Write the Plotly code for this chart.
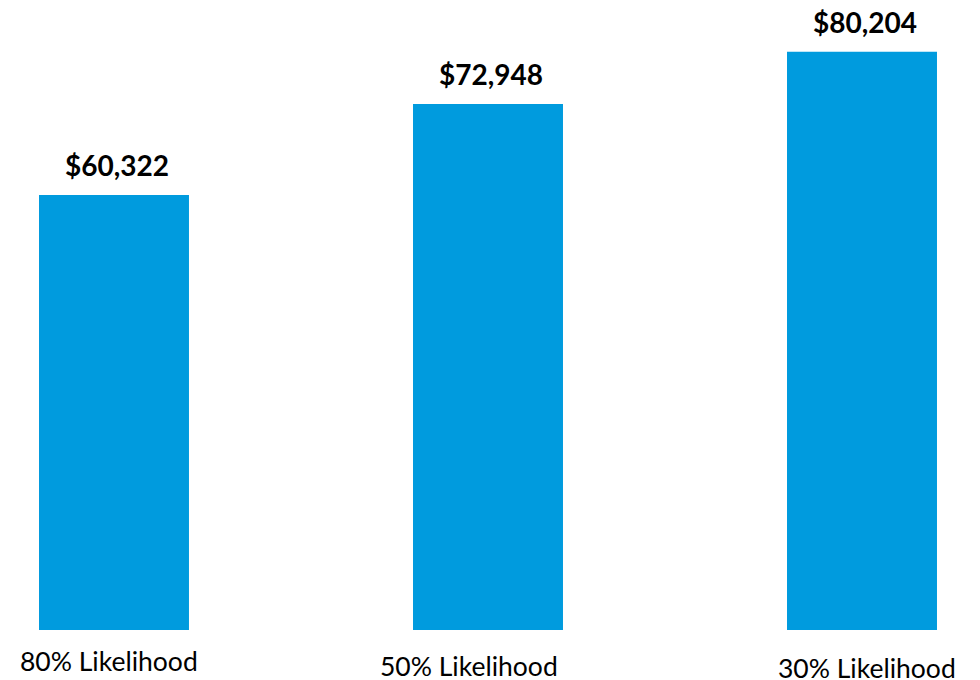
import plotly.graph_objects as go

# Expected outcome by likelihood level
categories = ["80% Likelihood", "50% Likelihood", "30% Likelihood"]
values = [60322, 72948, 80204]
value_labels = ["$60,322", "$72,948", "$80,204"]

# Per-category nudges for the category captions (pixels)
caption_dx = [-5, -19, 5]
caption_dy = [-13, -18, -20]

BAR_COLOR = "#009BDE"

fig = go.Figure(
    go.Bar(
        x=categories,
        y=values,
        marker=dict(color=BAR_COLOR, line=dict(width=0)),
        width=0.401,
        hoverinfo="skip",
    )
)

annotations = []
for cat, val, lab in zip(categories, values, value_labels):
    annotations.append(dict(
        x=cat, y=val, xref="x", yref="y",
        text=f"<b>{lab}</b>", showarrow=False,
        xanchor="center", yanchor="bottom",
        xshift=3, yshift=11,
        font=dict(family="Lato", size=28, color="#000000"),
    ))
for cat, dx, dy in zip(categories, caption_dx, caption_dy):
    annotations.append(dict(
        x=cat, y=0, xref="x", yref="y",
        text=cat, showarrow=False,
        xanchor="center", yanchor="top",
        xshift=dx, yshift=dy,
        font=dict(family="Lato", size=26.5, color="#000000"),
    ))

fig.update_layout(
    width=980, height=680,
    margin=dict(l=0, r=0, t=0, b=50),
    paper_bgcolor="white", plot_bgcolor="white",
    showlegend=False,
    annotations=annotations,
    xaxis=dict(range=[-0.3048, 2.3155], showticklabels=False, showgrid=False,
               zeroline=False, showline=False, ticks=""),
    yaxis=dict(range=[0, 87380], visible=False, showgrid=False, zeroline=False),
)

fig.write_html("out.html")
